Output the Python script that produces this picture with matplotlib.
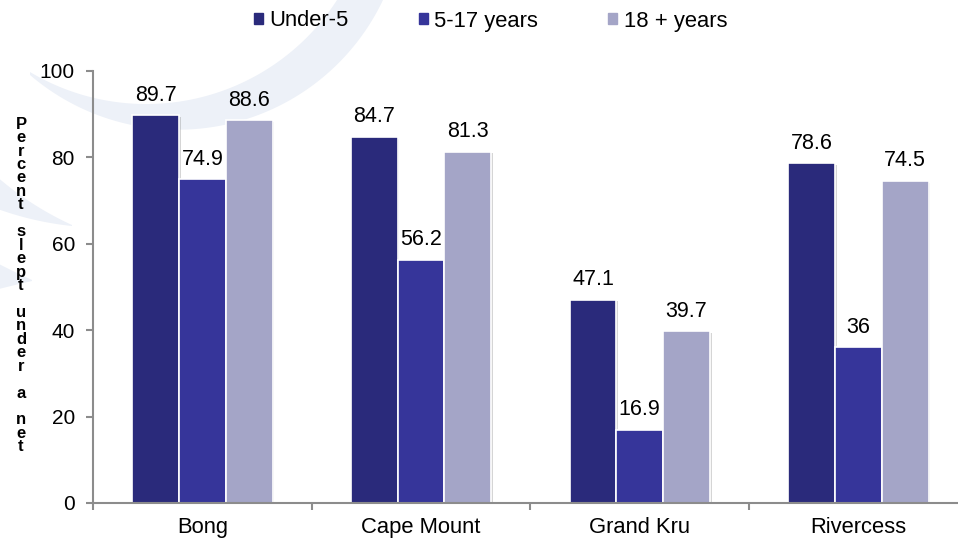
import matplotlib
matplotlib.use("Agg")
import matplotlib.pyplot as plt
import matplotlib.patheffects as pe
from matplotlib.patches import Patch
import numpy as np

plt.rcParams['font.family'] = ['Liberation Sans', 'DejaVu Sans']

counties = ['Bong', 'Cape Mount', 'Grand Kru', 'Rivercess']
groups = ['Under-5', '5-17 years', '18 + years']
under5 = [89.7, 84.7, 47.1, 78.6]
age5_17 = [74.9, 56.2, 16.9, 36]
age18 = [88.6, 81.3, 39.7, 74.5]
colors = ['#2a2a7b', '#36359a', '#a4a5c7']
ylabel_words = ['Percent', 'slept', 'under', 'a', 'net']

W, H = 958, 541
fig = plt.figure(figsize=(W / 100, H / 100), dpi=100)

# faint swooshes behind the chart, drawn in pixel units
bg = fig.add_axes([0, 0, 1, 1], zorder=0)
bg.set_xlim(0, W)
bg.set_ylim(H, 0)
bg.axis('off')


def arc_through(p1, p2, p3, n=200, ext=0.25):
    # circle through three points, sampled from p1 past p3
    (x1, y1), (x2, y2), (x3, y3) = p1, p2, p3
    d = 2 * (x1 * (y2 - y3) + x2 * (y3 - y1) + x3 * (y1 - y2))
    cx = ((x1**2 + y1**2) * (y2 - y3) + (x2**2 + y2**2) * (y3 - y1) + (x3**2 + y3**2) * (y1 - y2)) / d
    cy = ((x1**2 + y1**2) * (x3 - x2) + (x2**2 + y2**2) * (x1 - x3) + (x3**2 + y3**2) * (x2 - x1)) / d
    r = np.hypot(x1 - cx, y1 - cy)
    a1 = np.arctan2(y1 - cy, x1 - cx)
    a3 = np.arctan2(y3 - cy, x3 - cx)
    t = np.linspace(a1, a3 + ext * np.sign(a3 - a1), n)
    return cx + r * np.cos(t), cy + r * np.sin(t)


def swoosh(upper, lower, color='#edf1f8'):
    ux, uy = arc_through(*upper)
    lx, ly = arc_through(*lower)
    bg.fill(np.r_[lx, ux[::-1]], np.r_[ly, uy[::-1]], color=color, lw=0)


swoosh([(30, 72), (150, 104), (337, 0)], [(30, 75), (150, 128), (383, 0)])
swoosh([(72, 225), (35, 205), (-5, 175)], [(72, 226), (40, 221), (-5, 208)])
swoosh([(32, 280), (15, 272), (-5, 262)], [(32, 281), (15, 285), (-5, 290)])

ax = fig.add_axes([93 / W, 1 - 503 / H, (W - 93) / W, (503 - 71) / H], zorder=1)
ax.patch.set_alpha(0)

x = np.arange(len(counties))
width = 0.214
shadow = [pe.SimplePatchShadow(offset=(1.2, -1.2), shadow_rgbFace='#888888', alpha=0.35), pe.Normal()]
for i, (vals, c) in enumerate(zip([under5, age5_17, age18], colors)):
    bars = ax.bar(x + (i - 1) * width, vals, width, color=c, edgecolor='white',
                  linewidth=1.2, path_effects=shadow)
    for b, v in zip(bars, vals):
        ax.annotate(f'{v:g}', (b.get_x() + b.get_width() / 2, v), xytext=(0, 7),
                    textcoords='offset points', ha='center', va='bottom', fontsize=15.5)

ax.set_ylim(0, 100)
ax.set_xlim(-0.5, -0.5 + (W - 93) / 218.7)
ax.set_yticks(range(0, 101, 20))
ax.set_xticks([-0.5, 0.5, 1.5, 2.5])
ax.set_xticklabels([])
ax.set_xticks(x, minor=True)
ax.set_xticklabels(counties, minor=True)

axis_grey = '#8c8c8c'
ax.tick_params(axis='x', which='minor', length=0, pad=10, labelsize=15.8)
ax.tick_params(axis='x', which='major', length=5, color=axis_grey, width=1.5)
ax.tick_params(axis='y', length=5, pad=8, color=axis_grey, width=1.5, labelsize=15)
for s in ['top', 'right']:
    ax.spines[s].set_visible(False)
for s in ['left', 'bottom']:
    ax.spines[s].set_color(axis_grey)
    ax.spines[s].set_linewidth(1.5)

# stacked-letter y label
fig.text(21 / W, 1 - 285.5 / H, '\n\n'.join('\n'.join(w) for w in ylabel_words),
         ha='center', va='center', fontsize=12, fontweight='bold', linespacing=0.87)

handles = [Patch(color=c) for c in colors]
fig.legend(handles, groups, loc='center', bbox_to_anchor=(0.512, 1 - 21 / H), ncol=3,
           frameon=False, fontsize=15.8, handlelength=0.4, handleheight=0.4,
           handletextpad=0.3, columnspacing=3.2)

fig.savefig('out.png', dpi=100)
